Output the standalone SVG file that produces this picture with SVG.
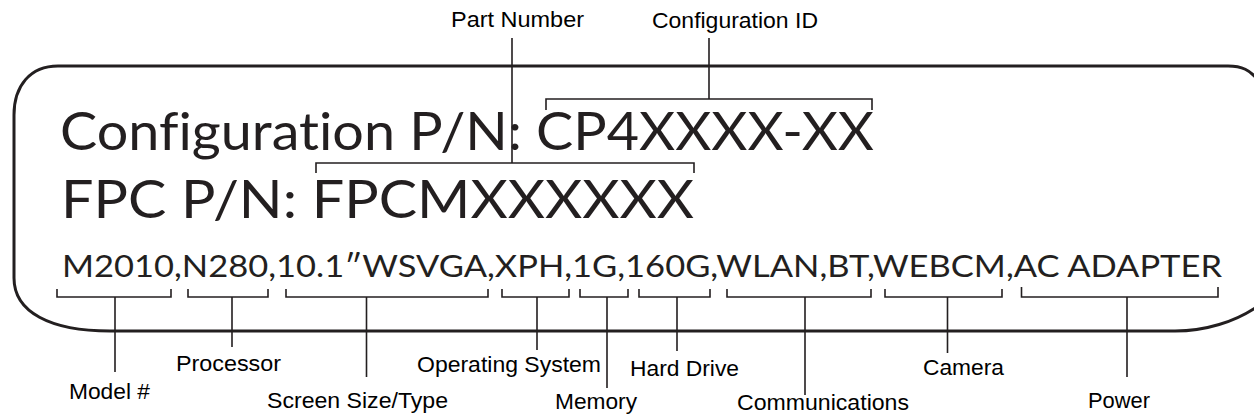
<svg xmlns="http://www.w3.org/2000/svg" width="1254" height="420" viewBox="0 0 1254 420">
<style>
.border{fill:none;stroke:#231f20;stroke-width:3}
.br{fill:none;stroke:#231f20;stroke-width:1.6}
.big{font-family:Lato,"Noto Sans","DejaVu Sans",sans-serif;font-weight:400;font-variant-ligatures:none;fill:#231f20}
.lbl{font-family:"Liberation Sans",Arial,sans-serif;font-size:22px;fill:#000}
</style>
<rect width="1254" height="420" fill="#fff"/>
<g id="label-card">
<path class="border" d="M1258 80 C1250 70 1242 66 1228 66 L58 66 C30 66 14 86 14 115 L14 278 C14 312 50 331 110 331 L1175 331 C1205 331 1235 322 1258 306"/>
<text class="big" x="60" y="150" font-size="52" textLength="814" lengthAdjust="spacingAndGlyphs">Configuration P/N: CP4XXXX-XX</text>
<text class="big" x="61" y="218" font-size="52" textLength="633" lengthAdjust="spacingAndGlyphs">FPC P/N: FPCMXXXXXX</text>
<text class="big" x="62" y="277" font-size="31" textLength="1160" lengthAdjust="spacingAndGlyphs">M2010,N280,10.1″WSVGA,XPH,1G,160G,WLAN,BT,WEBCM,AC ADAPTER</text>
</g>
<g id="connectors">
<path class="br" d="M546 110 V99 H872 V110 M709 99 V38"/>
<path class="br" d="M316 173 V163 H694 V173 M512 163 V38"/>
<path class="br" d="M57 289 V297 H171 V289 M115 297 V372"/>
<path class="br" d="M188 289 V297 H268 V289 M232 297 V347"/>
<path class="br" d="M286 289 V297 H488 V289 M366.5 297 V377"/>
<path class="br" d="M502 289 V297 H569 V289 M537 297 V350"/>
<path class="br" d="M580 289 V297 H628 V289 M607 297 V388"/>
<path class="br" d="M639 289 V297 H710 V289 M677 297 V351"/>
<path class="br" d="M727 289 V297 H871 V289 M805 297 V395"/>
<path class="br" d="M885 289 V297 H1002 V289 M947.5 297 V353"/>
<path class="br" d="M1021.5 287 V297 H1218 V287 M1127 297 V377"/>
</g>
<g id="part-number"><text class="lbl" x="451" y="27" textLength="133" lengthAdjust="spacingAndGlyphs">Part Number</text></g>
<g id="configuration-id"><text class="lbl" x="652" y="28" textLength="166" lengthAdjust="spacingAndGlyphs">Configuration ID</text></g>
<g id="model"><text class="lbl" x="69" y="399" textLength="81" lengthAdjust="spacingAndGlyphs">Model #</text></g>
<g id="processor"><text class="lbl" x="176" y="371" textLength="105" lengthAdjust="spacingAndGlyphs">Processor</text></g>
<g id="screen"><text class="lbl" x="267" y="408" textLength="181" lengthAdjust="spacingAndGlyphs">Screen Size/Type</text></g>
<g id="os"><text class="lbl" x="417" y="372" textLength="184" lengthAdjust="spacingAndGlyphs">Operating System</text></g>
<g id="memory"><text class="lbl" x="555" y="409" textLength="82" lengthAdjust="spacingAndGlyphs">Memory</text></g>
<g id="hard-drive"><text class="lbl" x="630" y="376" textLength="109" lengthAdjust="spacingAndGlyphs">Hard Drive</text></g>
<g id="communications"><text class="lbl" x="737" y="410" textLength="172" lengthAdjust="spacingAndGlyphs">Communications</text></g>
<g id="camera"><text class="lbl" x="923" y="375" textLength="81" lengthAdjust="spacingAndGlyphs">Camera</text></g>
<g id="power"><text class="lbl" x="1088" y="408" textLength="62" lengthAdjust="spacingAndGlyphs">Power</text></g>
</svg>
